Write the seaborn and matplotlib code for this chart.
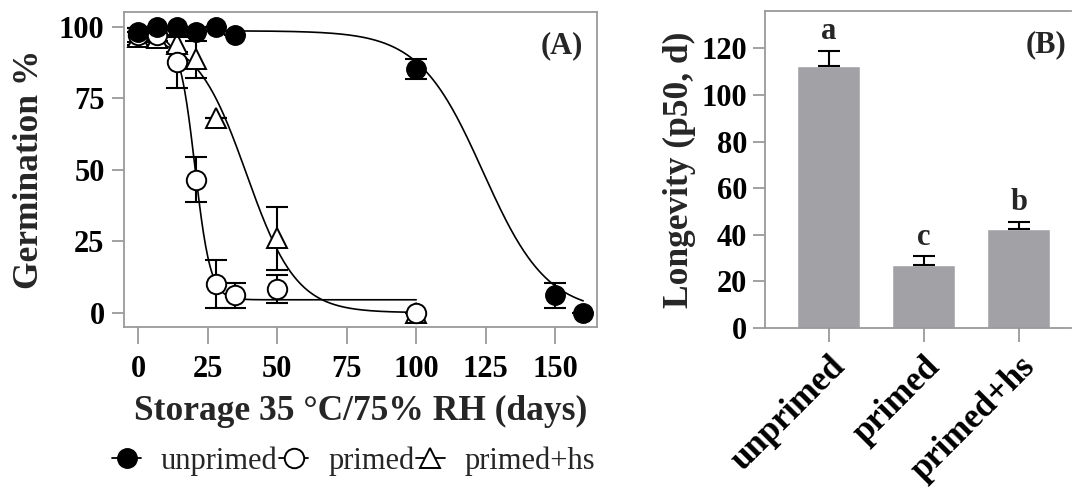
import numpy as np
import matplotlib
matplotlib.use("Agg")
import matplotlib.pyplot as plt
from matplotlib.lines import Line2D
import seaborn as sns
import pandas as pd

# ---------------- data ----------------
unprimed_days = [0, 7, 14, 21, 28, 35, 100, 150, 160]
unprimed_germ = [98, 100, 100, 98, 100, 97, 85, 6, 0]
unprimed_err = [0, 0, 0, 0, 0, 0, 3.5, 4.5, 0]

primed_days = [0, 7, 14, 21, 28, 35, 50, 100]
primed_germ = [97, 97, 87.5, 46.5, 10, 6, 8.3, 0]
primed_err = [2.5, 2, 9, 8, 8.5, 4.5, 5, 0]

hs_days = [0, 7, 14, 21, 28, 50, 100]
hs_germ = [96.5, 96, 94, 88.5, 68, 26, 0]
hs_err = [3, 3, 3, 6.5, 0, 11, 0]

# fitted sigmoid parameters: top, bottom, x50, scale, day range
fit_unprimed = dict(top=98.5, bottom=0.0, x50=124.0, scale=11.5, start=0, end=160)
fit_primed = dict(top=97.0, bottom=4.5, x50=20.5, scale=2.8, start=0, end=100)
fit_hs = dict(top=97.0, bottom=0.0, x50=39.0, scale=9.0, start=0, end=100)

categories = ["unprimed", "primed", "primed+hs"]
longevity = [112.3, 26.9, 42.4]
longevity_err = [6.7, 3.8, 3.2]
letters = ["a", "c", "b"]

x_ticks_A = [0, 25, 50, 75, 100, 125, 150]
y_ticks_A = [0, 25, 50, 75, 100]
y_ticks_B = [0, 20, 40, 60, 80, 100, 120]

# ---------------- style ----------------
sns.set_style("ticks")
plt.rcParams["font.family"] = ["Liberation Serif", "DejaVu Serif"]

GRAY = "#9a9a9a"
BAR = "#a2a2a6"
LABEL_FS = 25.5
TICK_FS = 22

fig = plt.figure(figsize=(10.72, 4.88), dpi=100)
axA = fig.add_axes([0.1157, 0.330, 0.4413, 0.645])
axB = fig.add_axes([0.7136, 0.328, 0.2854, 0.649])


def sigmoid(p, n=400):
    x = np.linspace(p["start"], p["end"], n)
    y = p["bottom"] + (p["top"] - p["bottom"]) / (1 + np.exp((x - p["x50"]) / p["scale"]))
    return x, y


# curves
for p in (fit_unprimed, fit_primed, fit_hs):
    cx, cy = sigmoid(p)
    sns.lineplot(x=cx, y=cy, ax=axA, color="black", lw=1.2, zorder=2, sort=False)

# error bars
errkw = dict(fmt="none", ecolor="black", elinewidth=1.5, capsize=8, capthick=1.5, zorder=3)
axA.errorbar(hs_days, hs_germ, yerr=hs_err, **errkw)
axA.errorbar(primed_days, primed_germ, yerr=primed_err, **errkw)
axA.errorbar(unprimed_days, unprimed_germ, yerr=unprimed_err, **errkw)

# markers
axA.plot(hs_days, hs_germ, ls="none", marker="^", ms=14, mfc="white", mec="black", mew=1.4, zorder=4)
axA.plot(primed_days, primed_germ, ls="none", marker="o", ms=14, mfc="white", mec="black", mew=1.4, zorder=5)
axA.plot(unprimed_days, unprimed_germ, ls="none", marker="o", ms=14, mfc="black", mec="black", zorder=6)

axA.set_xlim(-5, 165)
axA.set_ylim(-5, 105)
axA.set_xticks(x_ticks_A)
axA.set_yticks(y_ticks_A)
axA.set_xlabel("Storage 35 °C/75% RH (days)", fontsize=LABEL_FS, fontweight="bold", labelpad=8)
axA.set_ylabel("Germination %", fontsize=LABEL_FS, fontweight="bold", labelpad=9)
axA.text(0.97, 0.94, "(A)", transform=axA.transAxes, ha="right", va="top",
         fontsize=22, fontweight="bold")

for ax in (axA, axB):
    for s in ax.spines.values():
        s.set_color(GRAY)
        s.set_linewidth(1.3)
    ax.tick_params(axis="both", colors=GRAY, width=1.3, labelcolor="black",
                   labelsize=TICK_FS, direction="out", pad=4)
    for lab in ax.get_xticklabels() + ax.get_yticklabels():
        lab.set_fontweight("bold")

axA.tick_params(axis="x", length=12, pad=8)
axA.tick_params(axis="y", length=9, pad=5)

# ---------------- panel B ----------------
dfB = pd.DataFrame({"treatment": categories, "longevity": longevity})
sns.barplot(data=dfB, x="treatment", y="longevity", ax=axB, color=BAR,
            width=0.67, errorbar=None, saturation=1)
axB.errorbar(range(len(categories)), longevity,
             yerr=[np.zeros(len(categories)), longevity_err],
             fmt="none", ecolor="black", elinewidth=1.5, capsize=8, capthick=1.5)
for i, (v, e, l) in enumerate(zip(longevity, longevity_err, letters)):
    axB.text(i, v + e + 2, l, ha="center", va="bottom", fontsize=22, fontweight="bold")

axB.set_xlim(-0.67, 2.55)
axB.set_ylim(0, 136)
axB.set_yticks(y_ticks_B)
axB.set_xlabel("")
axB.set_ylabel("Longevity (p50, d)", fontsize=LABEL_FS, fontweight="bold", labelpad=4)
axB.text(0.985, 0.94, "(B)", transform=axB.transAxes, ha="right", va="top",
         fontsize=22, fontweight="bold")
axB.spines["right"].set_visible(False)
axB.tick_params(axis="x", length=10, pad=6)
axB.tick_params(axis="y", length=9)
for lab in axB.get_xticklabels():
    lab.set_rotation(45)
    lab.set_ha("right")
    lab.set_rotation_mode("anchor")
    lab.set_fontweight("bold")
    lab.set_fontsize(25)
for lab in axB.get_yticklabels():
    lab.set_fontweight("bold")

# ---------------- legend ----------------
handles = [
    Line2D([], [], color="black", lw=1.3, marker="o", ms=14, mfc="black", mec="black"),
    Line2D([], [], color="black", lw=1.3, marker="o", ms=14, mfc="white", mec="black", mew=1.4),
    Line2D([], [], color="black", lw=1.3, marker="^", ms=14, mfc="white", mec="black", mew=1.4),
]
fig.legend(handles, categories, loc="center", bbox_to_anchor=(0.33, 0.055), ncol=3,
           frameon=False, fontsize=22, handlelength=0.95, handletextpad=0.65,
           columnspacing=0.05)

fig.savefig("out.png", dpi=100)
